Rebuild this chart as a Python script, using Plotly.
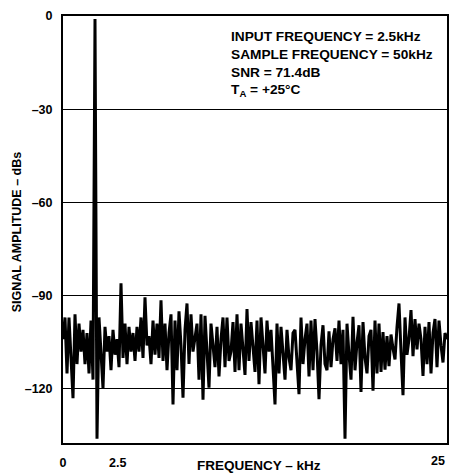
import plotly.graph_objects as go

# FFT spectrum (dBs), 193 bins from 0 to 25 kHz
amp_seg1 = [-104, -97, -115, -97, -110, -123, -96, -112, -99, -108,
            -101, -112, -102, -115, -98, -117, -1, -136, -97, -110,
            -119.8, -100, -108, -103, -114, -101, -109, -104, -113, -86,
            -110, -99, -112, -100, -108, -102, -111, -100]
amp_seg2 = [-108, -97, -110, -90.5, -106, -103, -112, -98, -109, -99,
            -110, -91.5, -111, -99, -114, -102, -96, -125, -98, -114,
            -95, -106, -122.8, -101, -92.5, -112, -96, -108, -104, -99,
            -117, -96, -123.5, -96.5, -108, -119.6, -99, -106, -113, -100]
amp_seg3 = [-116, -104, -97, -113, -97, -111, -108, -98.5, -114.5, -96,
            -114, -99, -109, -115.5, -94.3, -111, -98.5, -106, -114.5, -98,
            -118.5, -97, -106, -115, -98, -108, -101, -112, -125, -99,
            -115, -100, -108, -117, -101, -110, -114, -102]
amp_seg4 = [-101, -110, -121.7, -97, -112, -104, -99, -116, -98, -114,
            -97.5, -108, -123.3, -106, -99.5, -112, -114, -101.5, -113, -104,
            -100.5, -111, -98, -112, -101, -136, -99, -109, -117, -96.8,
            -114, -105, -99.5, -121, -98.5, -110, -115, -103, -101]
amp_seg5 = [-120.6, -98, -115, -99, -114.5, -101.7, -113.8, -103, -112.7, -102.5,
            -107, -110.5, -100, -92.5, -108, -122, -97, -109, -104, -94.6,
            -109.5, -97.5, -107.3, -99, -104, -115.8, -100, -112, -98.5, -115,
            -102, -97.5, -113, -98, -106, -111.5, -102, -104]
amplitude_dbs = amp_seg1 + amp_seg2 + amp_seg3 + amp_seg4 + amp_seg5
n_bins = len(amplitude_dbs)
freq_khz = [i * 25.0 / (n_bins - 1) for i in range(n_bins)]

y_ticks = [0, -30, -60, -90, -120]
y_tick_text = ["0", "\u201330", "\u201360", "\u201390", "\u2013120"]
x_ticks = [0, 3.56, 25]
x_tick_text = ["0", "2.5", "25"]

info_lines = ["INPUT FREQUENCY = 2.5kHz",
              "SAMPLE FREQUENCY = 50kHz",
              "SNR = 71.4dB",
              "T<sub>A</sub> = +25\u00b0C"]

FONT = "Liberation Sans, Arial, sans-serif"
TICKFONT = dict(family=FONT, size=12.5, color="black", weight="bold")

fig = go.Figure()
fig.add_trace(go.Scatter(x=freq_khz, y=amplitude_dbs, mode="lines",
                         line=dict(color="black", width=3), hoverinfo="skip"))

W, H = 451, 473
L, R, T, B = 63, 2, 16, 30
pw, ph = W - L - R, H - T - B

fig.update_layout(
    width=W, height=H,
    margin=dict(l=L, r=R, t=T, b=B),
    paper_bgcolor="white", plot_bgcolor="white",
    showlegend=False,
    font=dict(family=FONT, size=12, color="black"),
    xaxis=dict(range=[0, 25], tickvals=x_ticks[:2], ticktext=x_tick_text[:2],
               showgrid=False, zeroline=False, showline=True, linecolor="black",
               linewidth=2, mirror=True, ticks="",
               tickfont=TICKFONT, ticklabelstandoff=7),
    yaxis=dict(range=[-137.4, 0], tickvals=y_ticks, ticktext=y_tick_text,
               showgrid=True, gridcolor="black", gridwidth=1,
               zeroline=False, showline=True, linecolor="black",
               linewidth=2, mirror=True, ticks="",
               tickfont=TICKFONT, ticklabelstandoff=6),
)

def px_x(p):
    return (p - L) / pw

def px_y(p):
    return (H - B - p) / ph

anns = []
for k, line in enumerate(info_lines):
    anns.append(dict(x=px_x(230), y=px_y(36 + 18.2 * k), xref="paper", yref="paper",
                     text="<b>" + line + "</b>", showarrow=False,
                     xanchor="left", yanchor="middle",
                     font=dict(family=FONT, size=13.7, color="black")))
# last x tick label at the right edge of the frame
anns.append(dict(x=px_x(449), y=px_y(461), xref="paper", yref="paper",
                 text="<b>" + x_tick_text[2] + "</b>", showarrow=False,
                 xanchor="right", yanchor="middle",
                 font=dict(family=FONT, size=12.5, color="black")))
anns.append(dict(x=px_x(260), y=px_y(465), xref="paper", yref="paper",
                 text="<b>FREQUENCY \u2013 kHz</b>", showarrow=False,
                 xanchor="center", yanchor="middle",
                 font=dict(family=FONT, size=13.5, color="black")))
anns.append(dict(x=px_x(17), y=px_y(232), xref="paper", yref="paper",
                 text="<b>SIGNAL AMPLITUDE \u2013 dBs</b>", showarrow=False,
                 textangle=-90, xanchor="center", yanchor="middle",
                 font=dict(family=FONT, size=12.5, color="black")))
fig.update_layout(annotations=anns)

fig.write_html("out.html")
